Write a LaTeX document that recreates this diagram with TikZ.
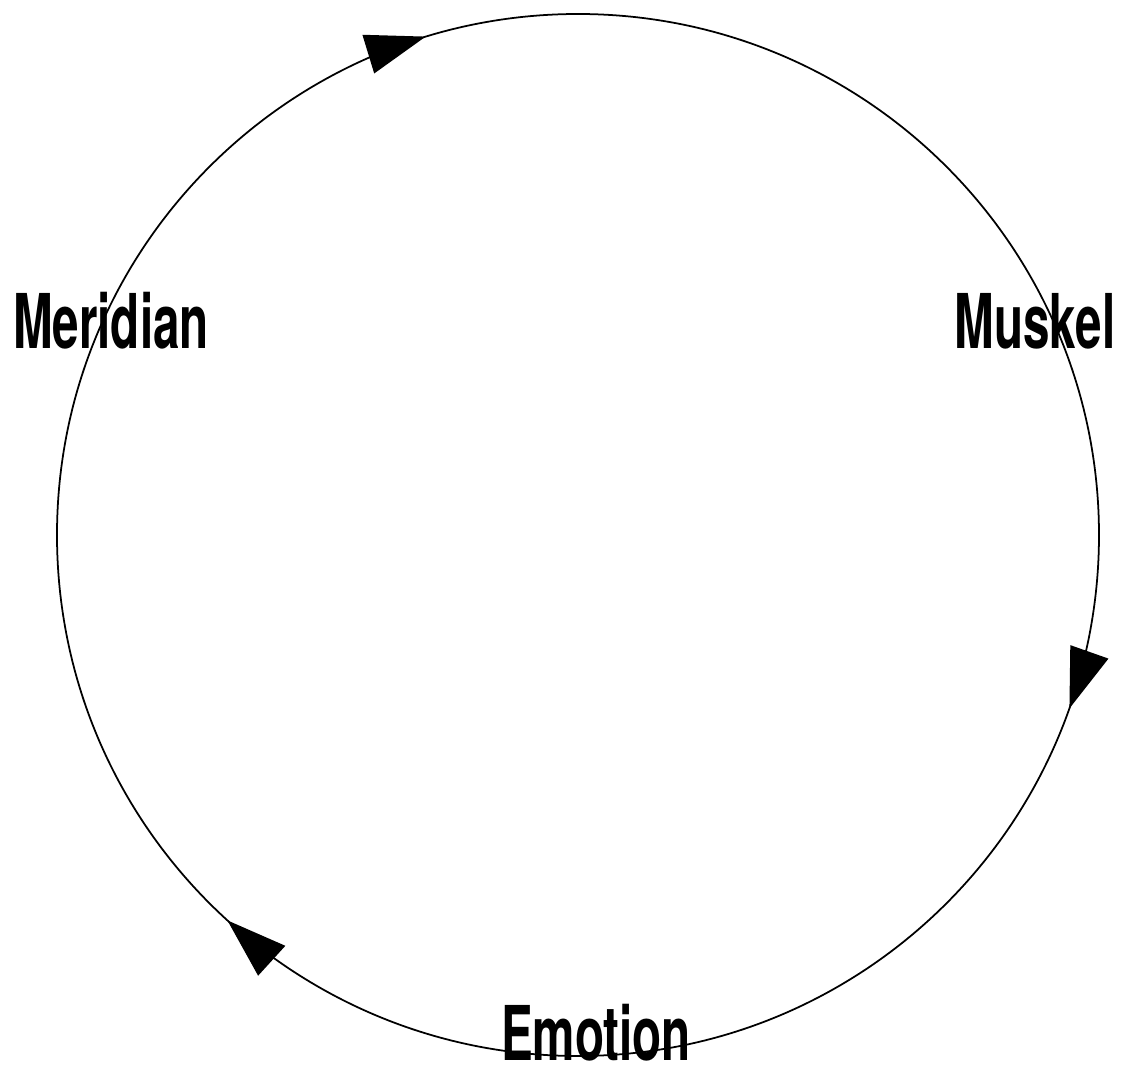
\documentclass[tikz,border=0pt]{standalone}
\usepackage{fontspec}
\newfontfamily\labelfont{TeX Gyre Heros}
\usetikzlibrary{decorations.markings,arrows.meta}
\begin{document}
\begin{tikzpicture}[scale=1,
        label/.style={font=\labelfont\bfseries\fontsize{43}{43}\selectfont, xscale=0.63, anchor=base, inner sep=0pt},
        cycle/.style={color = black, line width=1pt, postaction={decorate}, decoration={markings,
            mark=at position 0.2028 with {\arrow{Triangle[length=1.2cm, width=0.8cm]}},
            mark=at position 0.5540 with {\arrow{Triangle[length=1.2cm, width=0.8cm]}},
            mark=at position 0.8675 with {\arrow{Triangle[length=1.2cm, width=0.8cm]}}}}]
        \useasboundingbox (-11.56,-10.92) rectangle (11.0,10.7);
        \coordinate (centre) at (0,0);
        \draw[cycle] (centre) ++(180:10.42) arc[start angle=180, end angle=-180, radius=10.42];
        \node[label] (meridian) at (-9.34,3.72) {Meridian};
        \node[label] (muskel) at (9.14,3.72) {Muskel};
        \node[label] (emotion) at (0.36,-10.5) {Emotion};
        \end{tikzpicture}
\end{document}
